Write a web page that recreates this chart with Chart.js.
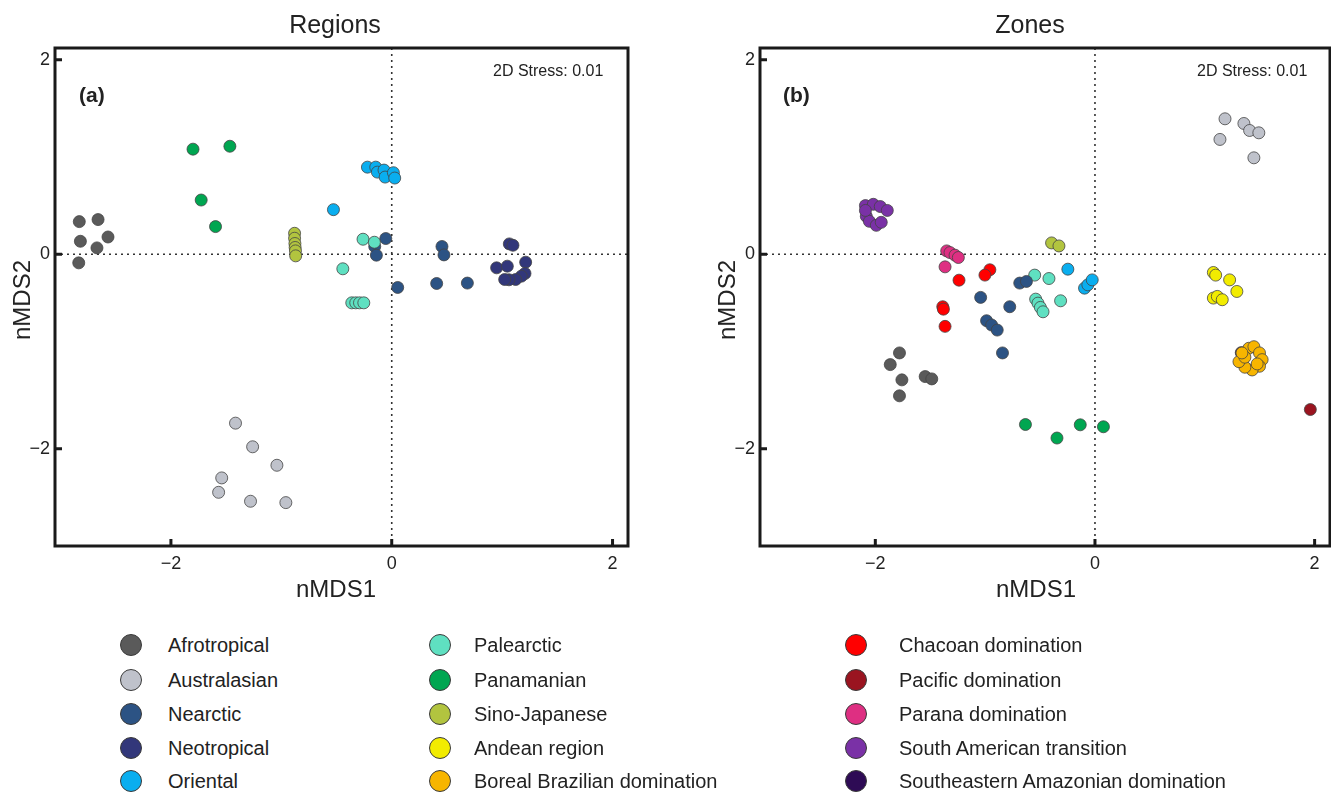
<!DOCTYPE html>
<html>
<head>
<meta charset="utf-8">
<script src="https://cdn.jsdelivr.net/npm/chart.js@4.4.1/dist/chart.umd.min.js"></script>
<style>
  body { margin: 0; background: #fff; font-family: "Liberation Sans", Arial, sans-serif; }
  #wrap { position: relative; width: 1331px; height: 792px; overflow: hidden; background: #fff; }
  canvas { position: absolute; top: 0; }
  .t { position: absolute; color: #222; white-space: nowrap; line-height: 1; }
  .title { font-size: 25px; transform: translateX(-50%); }
  .axt { font-size: 24px; transform: translateX(-50%); }
  .axy { font-size: 24px; transform: translate(-50%, -50%) rotate(-90deg); }
  .tag { font-size: 21px; font-weight: bold; }
  .stress { font-size: 16px; }
  .leg { position: absolute; font-size: 20px; color: #222; white-space: nowrap; transform: translateY(-50%); }
  .dot { position: absolute; width: 22px; height: 22px; border-radius: 50%; border: 1.5px solid #3a3a3a; box-sizing: border-box; transform: translate(-50%, -50%); }
</style>
</head>
<body>
<div id="wrap">
  <canvas id="chartA" width="660" height="610" style="left:0"></canvas>
  <canvas id="chartB" width="660" height="610" style="left:690px"></canvas>

  <div class="t title" style="left:335px; top:12px">Regions</div>
  <div class="t title" style="left:1030px; top:12px">Zones</div>
  <div class="t axt" style="left:336px; top:577px">nMDS1</div>
  <div class="t axt" style="left:1036px; top:577px">nMDS1</div>
  <div class="t axy" style="left:22px; top:300px">nMDS2</div>
  <div class="t axy" style="left:727px; top:300px">nMDS2</div>
  <div class="t tag" style="left:79px; top:84px">(a)</div>
  <div class="t tag" style="left:783px; top:84px">(b)</div>
  <div class="t stress" style="left:493px; top:63px">2D Stress: 0.01</div>
  <div class="t stress" style="left:1197px; top:63px">2D Stress: 0.01</div>

  <div id="legend"></div>
</div>

<script>
// ---------------- Data: panel (a) Regions ----------------
const aAfrotropical = [[-2.83, 0.335], [-2.66, 0.356], [-2.82, 0.133], [-2.57, 0.177], [-2.67, 0.065], [-2.835, -0.089]];
const aAustralasian = [[-1.415, -1.737], [-1.26, -1.98], [-1.04, -2.17], [-1.54, -2.30], [-1.568, -2.448], [-1.279, -2.54], [-0.959, -2.554]];
const aNearctic = [[-0.054, 0.161], [-0.154, 0.079], [-0.139, -0.01], [0.455, 0.079], [0.473, -0.007], [0.054, -0.342], [0.407, -0.301], [0.685, -0.297]];
const aNeotropical = [[1.065, 0.106], [1.098, 0.092], [1.213, -0.082], [0.95, -0.14], [1.047, -0.123], [1.207, -0.198], [1.174, -0.226], [1.122, -0.26], [1.062, -0.263], [1.023, -0.26]];
const aOriental = [[-0.528, 0.458], [-0.22, 0.895], [-0.145, 0.895], [-0.13, 0.844], [-0.07, 0.865], [-0.06, 0.793], [0.015, 0.838], [0.027, 0.783]];
const aPalearctic = [[-0.26, 0.154], [-0.157, 0.123], [-0.443, -0.15], [-0.362, -0.5], [-0.326, -0.5], [-0.292, -0.5], [-0.253, -0.5]];
const aPanamanian = [[-1.80, 1.08], [-1.466, 1.11], [-1.726, 0.557], [-1.596, 0.284]];
const aSinoJapanese = [[-0.88, 0.215], [-0.88, 0.164], [-0.877, 0.11], [-0.875, 0.069], [-0.872, 0.034], [-0.87, -0.017]];

// ---------------- Data: panel (b) Zones ----------------
const bAfrotropical = [[-1.78, -1.015], [-1.864, -1.135], [-1.758, -1.292], [-1.546, -1.258], [-1.486, -1.282], [-1.78, -1.456]];
const bAustralasian = [[1.184, 1.392], [1.356, 1.344], [1.408, 1.272], [1.492, 1.248], [1.138, 1.18], [1.447, 0.991]];
const bNearctic = [[-0.685, -0.297], [-0.624, -0.28], [-1.041, -0.444], [-0.776, -0.54], [-0.987, -0.684], [-0.941, -0.728], [-0.89, -0.78], [-0.842, -1.015]];
const bOriental = [[-0.247, -0.154], [-0.095, -0.349], [-0.065, -0.315], [-0.025, -0.264]];
const bPalearctic = [[-0.549, -0.215], [-0.419, -0.25], [-0.313, -0.479], [-0.54, -0.462], [-0.519, -0.503], [-0.497, -0.547], [-0.473, -0.592]];
const bPanamanian = [[-0.633, -1.751], [-0.346, -1.89], [-0.134, -1.754], [0.077, -1.774]];
const bSinoJapanese = [[-0.395, 0.116], [-0.328, 0.085]];
const bAndean = [[1.078, -0.188], [1.099, -0.215], [1.226, -0.264], [1.292, -0.383], [1.078, -0.451], [1.114, -0.434], [1.159, -0.468]];
const bBoreal = [[1.401, -0.967], [1.447, -0.951], [1.498, -1.015], [1.522, -1.084], [1.498, -1.152], [1.431, -1.19], [1.365, -1.162], [1.311, -1.105], [1.365, -1.059], [1.477, -1.128], [1.338, -1.015]];
const bChacoan = [[-0.957, -0.16], [-1.002, -0.215], [-1.238, -0.267], [-1.386, -0.54], [-1.38, -0.565], [-1.365, -0.742]];
const bPacific = [[1.961, -1.597]];
const bParana = [[-1.35, 0.034], [-1.32, 0.017], [-1.274, -0.01], [-1.244, -0.034], [-1.365, -0.13]];
const bSouthAmerican = [[-2.09, 0.50], [-2.018, 0.513], [-1.955, 0.49], [-1.891, 0.45], [-2.082, 0.39], [-2.054, 0.338], [-1.991, 0.297], [-1.946, 0.328], [-2.09, 0.45]];
const bSEAmazonian = [[1.332, -1.012]];

// ---------------- Legend / colours ----------------
const legendNames = [
  "Afrotropical", "Australasian", "Nearctic", "Neotropical", "Oriental",
  "Palearctic", "Panamanian", "Sino-Japanese", "Andean region", "Boreal Brazilian domination",
  "Chacoan domination", "Pacific domination", "Parana domination", "South American transition", "Southeastern Amazonian domination"
];
const legendColors = [
  "#5a5a5a", "#bfc2cb", "#2c5384", "#32377a", "#0aaeef",
  "#5fe0c1", "#00a651", "#b2c43f", "#f2ec00", "#f7b500",
  "#ff0000", "#9a1420", "#de2f82", "#7a31a6", "#2e0b55"
];
const tickValues = [-2, 0, 2];

const color = (name) => legendColors[legendNames.indexOf(name)];
const pts = (arr) => arr.map(([x, y]) => ({ x, y }));

function ds(name, arr) {
  return {
    label: name,
    data: pts(arr),
    backgroundColor: color(name),
    borderColor: "#444",
    borderWidth: 0.8,
    pointRadius: 6,
    pointHoverRadius: 6,
  };
}

// ---------------- Frame, zero lines, inward ticks ----------------
const framePlugin = {
  id: "frame",
  beforeDatasetsDraw(chart) {
    const { ctx, chartArea: a, scales: { x, y } } = chart;
    ctx.save();
    ctx.setLineDash([2, 4]);
    ctx.strokeStyle = "#333";
    ctx.lineWidth = 1.6;
    const x0 = x.getPixelForValue(0), y0 = y.getPixelForValue(0);
    ctx.beginPath();
    ctx.moveTo(x0, a.top); ctx.lineTo(x0, a.bottom);
    ctx.moveTo(a.left, y0); ctx.lineTo(a.right, y0);
    ctx.stroke();
    ctx.restore();
  },
  afterDraw(chart) {
    const { ctx, chartArea: a, scales: { x, y } } = chart;
    ctx.save();
    ctx.strokeStyle = "#1a1a1a";
    ctx.lineWidth = 3;
    ctx.strokeRect(a.left, a.top, a.right - a.left, a.bottom - a.top);
    ctx.beginPath();
    x.ticks.forEach((t) => {
      const px = x.getPixelForValue(t.value);
      ctx.moveTo(px, a.bottom); ctx.lineTo(px, a.bottom - 7);
    });
    y.ticks.forEach((t) => {
      const py = y.getPixelForValue(t.value);
      ctx.moveTo(a.left, py); ctx.lineTo(a.left + 7, py);
    });
    ctx.stroke();
    ctx.restore();
  },
};

function makeChart(id, datasets, padLeft, padRight) {
  const fmt = (v) => (v < 0 ? "\u2212" + Math.abs(v) : String(v));
  return new Chart(document.getElementById(id), {
    type: "scatter",
    data: { datasets },
    options: {
      responsive: false,
      animation: false,
      devicePixelRatio: 1,
      layout: { padding: { left: 0, top: 48, right: padRight, bottom: 0 } },
      plugins: { legend: { display: false }, tooltip: { enabled: false } },
      scales: {
        x: {
          type: "linear", min: -3.05, max: 2.14,
          afterBuildTicks: (s) => { s.ticks = tickValues.map((v) => ({ value: v })); },
          afterFit: (s) => { s.height = 64; },
          grid: { display: false, drawTicks: false },
          border: { display: false },
          ticks: { padding: 7, color: "#222", font: { size: 18, family: "Liberation Sans" }, callback: fmt },
        },
        y: {
          type: "linear", min: -3.0, max: 2.12,
          afterBuildTicks: (s) => { s.ticks = tickValues.map((v) => ({ value: v })); },
          afterFit: (s) => { s.width = padLeft; },
          grid: { display: false, drawTicks: false },
          border: { display: false },
          ticks: { padding: 5, color: "#222", font: { size: 18, family: "Liberation Sans" }, callback: fmt },
        },
      },
    },
    plugins: [framePlugin],
  });
}

makeChart("chartA", [
  ds("Afrotropical", aAfrotropical),
  ds("Australasian", aAustralasian),
  ds("Panamanian", aPanamanian),
  ds("Sino-Japanese", aSinoJapanese),
  ds("Oriental", aOriental),
  ds("Palearctic", aPalearctic),
  ds("Nearctic", aNearctic),
  ds("Neotropical", aNeotropical),
], 55, 32);

makeChart("chartB", [
  ds("Afrotropical", bAfrotropical),
  ds("Australasian", bAustralasian),
  ds("South American transition", bSouthAmerican),
  ds("Parana domination", bParana),
  ds("Chacoan domination", bChacoan),
  ds("Nearctic", bNearctic),
  ds("Palearctic", bPalearctic),
  ds("Sino-Japanese", bSinoJapanese),
  ds("Oriental", bOriental),
  ds("Panamanian", bPanamanian),
  ds("Andean region", bAndean),
  ds("Boreal Brazilian domination", bBoreal),
  ds("Southeastern Amazonian domination", bSEAmazonian),
  ds("Pacific domination", bPacific),
], 70, 20);

// ---------------- HTML legend ----------------
const legend = document.getElementById("legend");
const colDot = [131, 440, 856];
const colText = [168, 474, 899];
const rowY = [645, 680, 714, 748, 781];
legendNames.forEach((name, i) => {
  const c = Math.floor(i / 5), r = i % 5;
  legend.innerHTML += `
    <div class="dot" style="left:${colDot[c]}px; top:${rowY[r]}px; background:${legendColors[i]}"></div>
    <div class="leg" style="left:${colText[c]}px; top:${rowY[r]}px">${name}</div>`;
});
</script>
</body>
</html>
